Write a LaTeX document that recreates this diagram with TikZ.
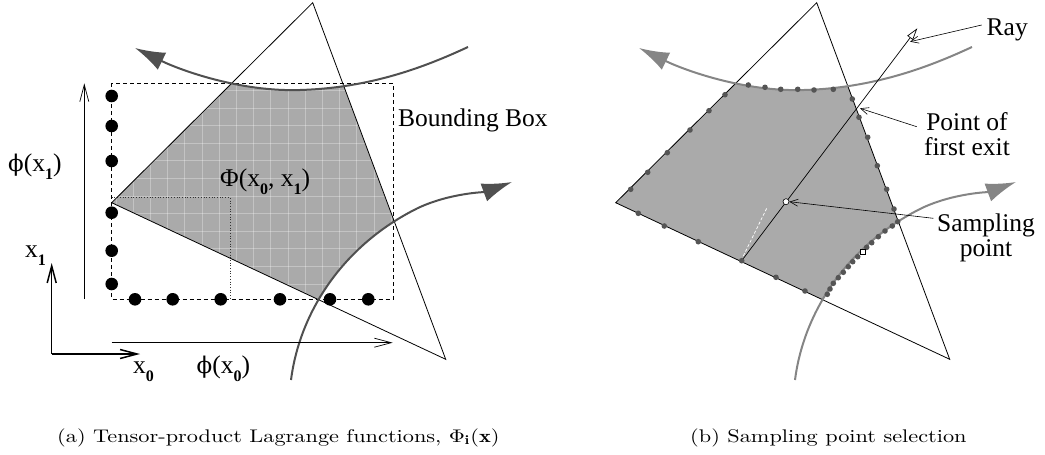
\documentclass[tikz,border=0pt]{standalone}
\usepackage{fontspec}
\usetikzlibrary{arrows.meta}
\newfontfamily\lblfont{Liberation Serif}
\newfontfamily\phifont{DejaVu Serif}
\newcommand\bsub[1]{\raisebox{-0.32em}{\fontsize{16}{16}\selectfont\bfseries #1}}
\newcommand\sphi{{\phifont\fontsize{23}{26}\selectfont ϕ}}
\definecolor{shadegray}{HTML}{AAAAAA}
\definecolor{curveL}{HTML}{505050}
\definecolor{curveR}{HTML}{858585}
\definecolor{dotR}{HTML}{555555}
\newcommand\regionclip{%
  \clip (111.7,202.7) -- (312.7,2.7) -- (445.7,359.3) -- cycle;
  \clip (135,48) .. controls (180,70) and (240,92) .. (300,90) .. controls (370,88) and (425,67) .. (468,47) -- (480,420) -- (90,420) -- (90,48) -- cycle;
  \clip (291,380) .. controls (300,310) and (345,244) .. (418,208) .. controls (450,193) and (485,192) .. (512,182) -- (520,-20) -- (0,-20) -- (0,420) -- cycle;}
\newcommand\curvesdraw[1]{%
  \draw[curve,draw=#1,{Latex[length=30pt,width=19pt,fill=#1]}-] (135,48) .. controls (180,70) and (240,92) .. (300,90) .. controls (370,88) and (425,67) .. (468,47);
  \draw[curve,draw=#1,-{Latex[length=30pt,width=19pt,fill=#1]}] (291,380) .. controls (300,310) and (345,244) .. (418,208) .. controls (450,193) and (485,192) .. (512,182);}
\begin{document}
\begin{tikzpicture}[x=1pt,y=-1pt,
  lab/.style={font={\lblfont\fontsize{25.5}{26}\selectfont},inner sep=0pt},
  captext/.style={inner sep=0pt,anchor=base west},
  tri/.style={draw=black,line width=0.8pt,line join=miter},
  curve/.style={line width=2pt},
  bigdot/.style={fill=black},
  smalldot/.style={fill=dotR},
  barb/.style={-{Straight Barb[length=17pt,width=9pt]}},
  leader/.style={line width=0.6pt,-{Straight Barb[length=8pt,width=7pt]}}]
\useasboundingbox (0,0) rectangle (1045,455);

% ---------------- panel (a) ----------------
\begin{scope}
  \regionclip
  \fill[shadegray] (0,0) rectangle (520,420);
  \foreach \gx in {116.0,133.2,...,470} \draw[white,opacity=0.3,line width=0.7pt] (\gx,0) -- (\gx,400);
  \foreach \gy in {90.3,107.9,...,360} \draw[white,opacity=0.3,line width=0.7pt] (90,\gy) -- (520,\gy);
\end{scope}
\draw[line width=0.7pt,dash pattern=on 4pt off 3pt] (111.7,83.3) rectangle (393.3,299.3);
\draw[line width=0.7pt,dotted,draw=black!80] (111.7,197.3) -- (230,197.3) -- (230,299.3);
\draw[tri] (111.7,202.7) -- (312.7,2.7) -- (445.7,359.3) -- cycle;
\curvesdraw{curveL}
\foreach \p in {(111.7,96),(111.7,126),(111.7,161),(111.7,212.7),(111.7,250.7),(111.7,284),
  (135,299.3),(172.7,299.3),(220.7,299.3),(280,299.3),(330,299.3),(368.3,299.3)}
  \fill[bigdot] \p circle (6.3);

\coordinate (phiOne0) at (84.3,299);
\coordinate (phiOne1) at (84.3,83.3);
\coordinate (phiZero0) at (111.7,342.7);
\coordinate (phiZero1) at (392.7,342.7);
\draw[line width=0.7pt,barb] (phiOne0) -- (phiOne1);
\draw[line width=0.7pt,barb] (phiZero0) -- (phiZero1);
\coordinate (orig) at (51.7,354);
\coordinate (xOneEnd) at (51.7,263);
\coordinate (xZeroEnd) at (140,354);
\draw[line width=1.5pt,barb] (orig) -- (xOneEnd);
\draw[line width=1.5pt,barb] (orig) -- (xZeroEnd);

\node[lab,anchor=base west] (lphi1) at (8,171) {\sphi(x\bsub{1})};
\node[lab,anchor=base west] (lx1) at (25,257) {x\bsub{1}};
\node[lab,anchor=base west] (lx0) at (133,373) {x\bsub{0}};
\node[lab,anchor=base west] (lphi0) at (196.5,373) {\sphi(x\bsub{0})};
\node[lab,anchor=base west] (lPhi) at (220,186.7) {Φ(x\bsub{0}, x\bsub{1})};
\node[lab,anchor=base west] (lbb) at (398,126.7) {Bounding Box};

% ---------------- panel (b) ----------------
\begin{scope}[xshift=504pt]
  \begin{scope}
    \regionclip
    \fill[shadegray] (0,0) rectangle (520,420);
  \end{scope}
  \draw[tri] (111.7,202.7) -- (312.7,2.7) -- (445.7,359.3) -- cycle;
  \curvesdraw{curveR}
\end{scope}
\draw[white,line width=0.7pt,dash pattern=on 3pt off 2pt] (743.3,256) -- (766.7,208.3);
\coordinate (rayStart) at (741.7,260.7);
\coordinate (samp) at (786,201.7);
\coordinate (rayTip) at (917.3,28.3);
\draw[line width=0.7pt,-{Triangle[length=12pt,width=7pt,fill=white]}] (rayStart) -- (rayTip);
\foreach \p in {(630.7,189.3),(647.7,172.3),(667.3,152.7),(690,130),(709,110.7),(725,94.7),
  (748.3,85),(765,87.3),(780.7,89.3),(797.7,89.3),(814,90),(833.3,89.3),
  (852.3,99),(859,117.3),(867.7,137.3),(877.3,165.7),(886.7,189.3),(894,209),
  (897.7,221.7),(892.3,226),(885,231),(878.3,236.7),(871.7,242.7),(866.7,247.3),
  (857.7,256.7),(852.7,261.7),(848.3,266.7),(843.3,272.3),(838.3,277.7),(833.3,283.3),(830,289),(827.3,294.3),
  (638.3,213.3),(664.3,226),(698.3,241.7),(741.7,260.7),(776,277.3),(805,291)}
  \fill[smalldot] \p circle (2.8);
\node[draw=black,fill=white,line width=0.6pt,minimum size=5pt,inner sep=0pt] (sq) at (862.3,251.7) {};
\node[circle,draw=black,fill=white,line width=0.6pt,minimum size=6pt,inner sep=0pt] (sampdot) at (samp) {};

\node[lab,anchor=base west] (lray) at (986.5,35) {Ray};
\node[lab,align=center,anchor=north] (lexit) at (967,112) {Point of\\[-1pt]first exit};
\node[lab,align=center,anchor=north] (lsamp) at (986,214) {Sampling\\[-1pt]point};
\coordinate (rayLeadStart) at (981.7,25);
\coordinate (rayLeadEnd) at (910,41.7);
\coordinate (exitLeadStart) at (916.7,126.7);
\coordinate (exitPt) at (860,108.3);
\coordinate (sampLeadStart) at (933.3,218.3);
\draw[leader] (rayLeadStart) -- (rayLeadEnd);
\draw[leader] (exitLeadStart) -- (exitPt);
\draw[leader] (sampLeadStart) -- (sampdot.east);

% ---------------- captions ----------------
\node[captext] (capA) at (57,442) {\scalebox{2.23}[1.83]{\fontsize{10}{12}\selectfont (a) Tensor-product Lagrange functions, $\Phi_{\mathbf{i}}(\mathbf{x})$}};
\node[captext] (capB) at (690,442) {\scalebox{2.23}[1.83]{\fontsize{10}{12}\selectfont (b) Sampling point selection}};
\end{tikzpicture}
\end{document}
